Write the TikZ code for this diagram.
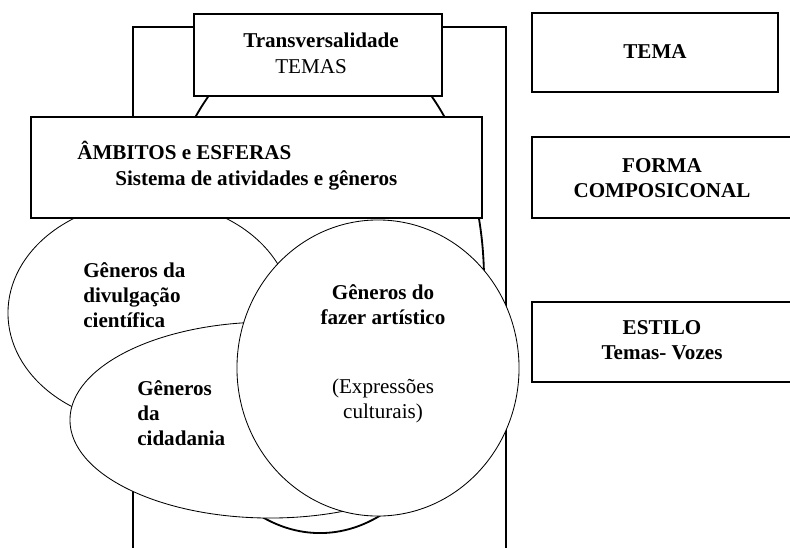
\documentclass[tikz,border=0pt]{standalone}
\usepackage{fontspec}
\setmainfont{Liberation Serif}
\usetikzlibrary{positioning,shapes.geometric}

\begin{document}
\begin{tikzpicture}[x=0.025cm, y=-0.025cm,
    box/.style={draw, fill=white, rectangle, line width=0.9pt, inner sep=0pt},
    bubble/.style={draw, fill=white, ellipse, line width=0.6pt, inner sep=0pt},
    txt/.style={font=\fontsize{15}{18}\selectfont\bfseries, inner sep=0pt},
    plain/.style={font=\fontsize{15}{18}\selectfont, inner sep=0pt}
]
    \clip (0,0) rectangle (790,547);

    % Frame and wheel
    \node[box, fill=none, minimum width=9.325cm, minimum height=13.325cm] (frame) at (319.5,293.5) {};
    \node[bubble, line width=1.3pt, minimum width=8.2cm, minimum height=12.6cm] (wheel) at (320,281) {};
    \node[box, minimum width=6.2cm, minimum height=2.05cm] (transv) at (318,55) {};

    % Genres
    \node[bubble, minimum width=7.1cm, minimum height=5.6cm] (divulg) at (150,313) {};
    \node[bubble, minimum width=10cm, minimum height=4.9cm] (cidad) at (270,420) {};
    \node[bubble, minimum width=7.05cm, minimum height=7.4cm] (artist) at (378,368) {};

    % Blocks
    \node[box, minimum width=11.275cm, minimum height=2.525cm] (ambitos) at (256.5,167.5) {};

    % Right column
    \node[box, minimum width=6.15cm, minimum height=1.975cm] (tema) at (655,52.5) {};
    \node[box, minimum width=6.6cm, minimum height=2.025cm] (forma) at (664,177.5) {};
    \node[box, minimum width=6.6cm, minimum height=2cm] (estilo) at (664,342) {};

    % Texts
    \node[txt] (transvA) at (321,40) {Transversalidade};
    \node[plain] (transvB) at (311,67) {TEMAS};
    \node[txt, anchor=west] (ambitosA) at (77,150) {ÂMBITOS e ESFERAS};
    \node[txt, anchor=west] (ambitosB) at (115,180) {Sistema de atividades e gêneros};
    \node[txt, anchor=west, align=left] (divulgT) at (83,295) {Gêneros da\\divulgação\\científica};
    \node[txt, anchor=west, align=left] (cidadT) at (137,413) {Gêneros\\da\\cidadania};
    \node[txt, align=center] (artistT) at (383,305) {Gêneros do\\fazer artístico};
    \node[plain, align=center] (artistB) at (383,401) {(Expressões\\culturais)};
    \node[txt] (temaT) at (655,52) {TEMA};
    \node[txt, align=center] (formaT) at (662,178) {FORMA\\COMPOSICONAL};
    \node[txt, align=center] (estiloT) at (662,340) {ESTILO\\Temas- Vozes};
\end{tikzpicture}
\end{document}
